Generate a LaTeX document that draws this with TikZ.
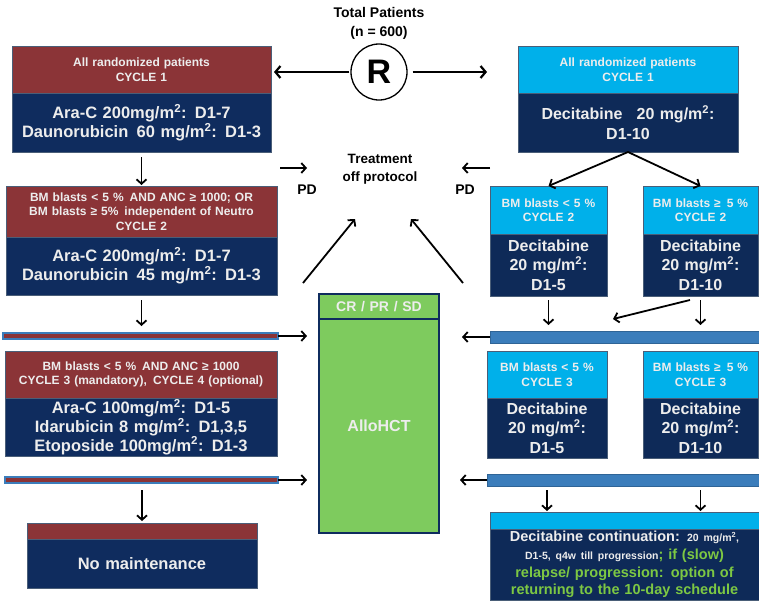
\documentclass[tikz,border=0pt]{standalone}
\usepackage{fontspec}
\setmainfont{Liberation Sans}
\usetikzlibrary{arrows.meta,calc}
\definecolor{redh}{HTML}{8B3437}
\definecolor{navy}{HTML}{0F2C5E}
\definecolor{navyR}{HTML}{0E2A58}
\definecolor{lblue}{HTML}{00B0EA}
\definecolor{grn}{HTML}{7ECB5E}
\definecolor{barb}{HTML}{3B7DBB}
\definecolor{edge}{HTML}{4A5E78}
\definecolor{txt}{HTML}{EDEDED}
\definecolor{gtxt}{HTML}{7DC843}
\newcommand\fs[2]{\fontsize{#1}{#2}\selectfont\bfseries}
\newcommand\msq{m\textsuperscript{2}}
\begin{document}
\begin{tikzpicture}[x=1pt,y=-1pt,
  part/.style={anchor=north west, inner sep=0pt, outer sep=0pt, align=center, draw=edge, line width=0.8pt, text=txt},
  sz/.style 2 args={text width=#1pt, minimum height=#2pt},
  hr/.style={part, fill=redh, font=\fs{12}{14.5}},
  hb/.style={part, fill=lblue, font=\fs{12}{14.5}},
  bl/.style={part, fill=navy, font=\fs{16.5}{19}},
  br/.style={part, fill=navyR, font=\fs{16}{19.5}},
  lbar/.style={anchor=north west, inner sep=0pt, outer sep=0pt, fill=redh, draw=barb, line width=1.2pt},
  rbar/.style={anchor=north west, inner sep=0pt, outer sep=0pt, fill=barb, draw=barb!80!black, line width=0.6pt},
  arr/.style={line width=1.8pt, -{Straight Barb[length=4.5pt,width=10pt]}},
  bigarr/.style={line width=2.2pt, -{Straight Barb[length=5pt,width=12pt]}},
  lbl/.style={align=center, text=black, inner sep=0pt}
]
\useasboundingbox (0,0) rectangle (759,600);

% top
\node[lbl, font=\fs{14}{19}] (tot) at (379,23) {Total Patients\\(n = 600)};
\node[circle, draw, line width=1.3pt, minimum size=56pt, inner sep=0pt, font=\fs{34}{34}] (R) at (379,72) {R};

% left column
\node[hr, sz={259}{47}] (l1h) at (12,46) {All randomized patients\\CYCLE 1};
\node[bl, sz={259}{59}] (l1b) at (12,93) {Ara-C 200mg/\msq: D1-7\\Daunorubicin\, 60 mg/\msq: D1-3};

\node[hr, sz={271}{51}] (l2h) at (6,186) {BM blasts < 5 \%\, AND ANC ≥ 1000; OR\\BM blasts ≥ 5\%\, independent of Neutro\\CYCLE 2};
\node[bl, sz={271}{58}] (l2b) at (6,237) {Ara-C 200mg/\msq: D1-7\\Daunorubicin\, 45 mg/\msq: D1-3};

\node[lbar, minimum width=275pt, minimum height=6pt] (lbar1) at (3,333) {};

\node[hr, sz={272}{47}] (l3h) at (5,351) {BM blasts < 5 \%\, AND ANC ≥ 1000\\CYCLE 3 (mandatory),\, CYCLE 4 (optional)};
\node[bl, sz={272}{58}, font=\fs{16.5}{18.7}] (l3b) at (5,398) {Ara-C 100mg/\msq: D1-5\\Idarubicin 8 mg/\msq: D1,3,5\\Etoposide 100mg/\msq: D1-3};

\node[lbar, minimum width=273pt, minimum height=6pt] (lbar2) at (5,477) {};

\node[hr, sz={230}{16}] (nomh) at (27,523) {};
\node[bl, sz={230}{49}] (nomb) at (27,539) {No maintenance};

% centre
\node[lbl, font=\fs{13.5}{18}] (trt) at (380,169) {Treatment\\off protocol};
\node[lbl, font=\fs{14}{14}] (pdl) at (307,190) {PD};
\node[lbl, font=\fs{14}{14}] (pdr) at (465,190) {PD};

\node[part, fill=grn, draw=navy, line width=1.5pt, sz={120}{25}, font=\fs{14}{14}] (crh) at (319,294) {CR / PR / SD};
\node[part, fill=grn, draw=navy, line width=1.5pt, sz={120}{214}, font=\fs{16}{16}] (crb) at (319,319) {AlloHCT};

% right column
\node[hb, sz={220}{47}] (r1h) at (518,46) {All randomized patients\\CYCLE 1};
\node[br, sz={220}{59}] (r1b) at (518,93) {Decitabine\;\; 20 mg/\msq:\\D1-10};

\node[hb, sz={117}{48}] (r2ah) at (490,186) {BM blasts < 5 \%\\CYCLE 2};
\node[br, sz={117}{62}] (r2ab) at (490,234) {Decitabine\\20 mg/\msq:\\D1-5};
\node[hb, sz={115}{48}] (r2bh) at (643,186) {BM blasts ≥\, 5 \%\\CYCLE 2};
\node[br, sz={115}{62}] (r2bb) at (643,234) {Decitabine\\20 mg/\msq:\\D1-10};

\node[rbar, minimum width=269pt, minimum height=12pt] (rbar1) at (490,331) {};

\node[hb, sz={120}{47}] (r3ah) at (487,351) {BM blasts < 5 \%\\CYCLE 3};
\node[br, sz={120}{60}] (r3ab) at (487,398) {Decitabine\\20 mg/\msq:\\D1-5};
\node[hb, sz={115}{47}] (r3bh) at (643,351) {BM blasts ≥\, 5 \%\\CYCLE 3};
\node[br, sz={115}{60}] (r3bb) at (643,398) {Decitabine\\20 mg/\msq:\\D1-10};

\node[rbar, minimum width=272pt, minimum height=12pt] (rbar2) at (487,474) {};

\node[hb, sz={269}{17}] (fh) at (490,512) {};
\node[br, sz={269}{71}, font=\fs{14.5}{17.8}] (fb) at (490,529)
  {Decitabine continuation: {\fs{10.5}{17.8}20 mg/\msq,}\\
   {\fs{10.5}{17.8}D1-5, q4w till progression}{\color{gtxt}; if (slow)}\\
   {\color{gtxt}relapse/ progression: option of}\\
   {\color{gtxt}returning to the 10-day schedule}};

% free arrow ends
\coordinate (pdla) at (280,168);
\coordinate (pdlb) at (307,168);
\coordinate (pdra) at (490,168);
\coordinate (pdrb) at (462,168);
\coordinate (dla) at (303,283);
\coordinate (dlb) at (355,219);
\coordinate (dra) at (463,283);
\coordinate (drb) at (411,219);
\coordinate (dga) at (690,300);
\coordinate (dgb) at (613,319);

% connectors
\draw[bigarr, shorten <=1pt, shorten >=3pt] (R.west) -- (R.west -| l1h.east);
\draw[bigarr, shorten <=5pt, shorten >=31pt] (R.east) -- (R.east -| r1h.west);

\draw[arr, shorten <=5pt, shorten >=1pt] (l1b.south) -- (l2h.north);
\draw[arr, shorten <=5pt, shorten >=7pt] (l2b.south) -- (l2b.south |- lbar1.north);
\draw[arr, shorten >=12pt] (lbar1.east) -- (lbar1.east -| crb.west);
\draw[arr, shorten >=12pt] (lbar2.east) -- (lbar2.east -| crb.west);
\draw[arr, shorten <=7pt, shorten >=2pt] (lbar2.south -| nomh.north) -- (nomh.north);

\draw[arr] (pdla) -- (pdlb);
\draw[arr] (pdra) -- (pdrb);
\draw[arr] (dla) -- (dlb);
\draw[arr] (dra) -- (drb);

\draw[arr] (r1b.south) -- (r2ah.north);
\draw[arr] (r1b.south) -- (r2bh.north);
\draw[arr, shorten <=4pt, shorten >=6pt] (r2ab.south) -- (r2ab.south |- rbar1.north);
\draw[arr, shorten <=4pt, shorten >=6pt] (r2bb.south) -- (r2bb.south |- rbar1.north);
\draw[arr] (dga) -- (dgb);
\draw[arr, shorten >=23pt] (rbar1.west) -- (rbar1.west -| crb.east);
\draw[arr, shorten >=21pt] (rbar2.west) -- (rbar2.west -| crb.east);
\draw[arr, shorten <=4pt, shorten >=1pt] (rbar2.south -| r3ab.south) -- (r3ab.south |- fh.north);
\draw[arr, shorten <=4pt, shorten >=1pt] (rbar2.south -| r3bb.south) -- (r3bb.south |- fh.north);
\end{tikzpicture}
\end{document}
